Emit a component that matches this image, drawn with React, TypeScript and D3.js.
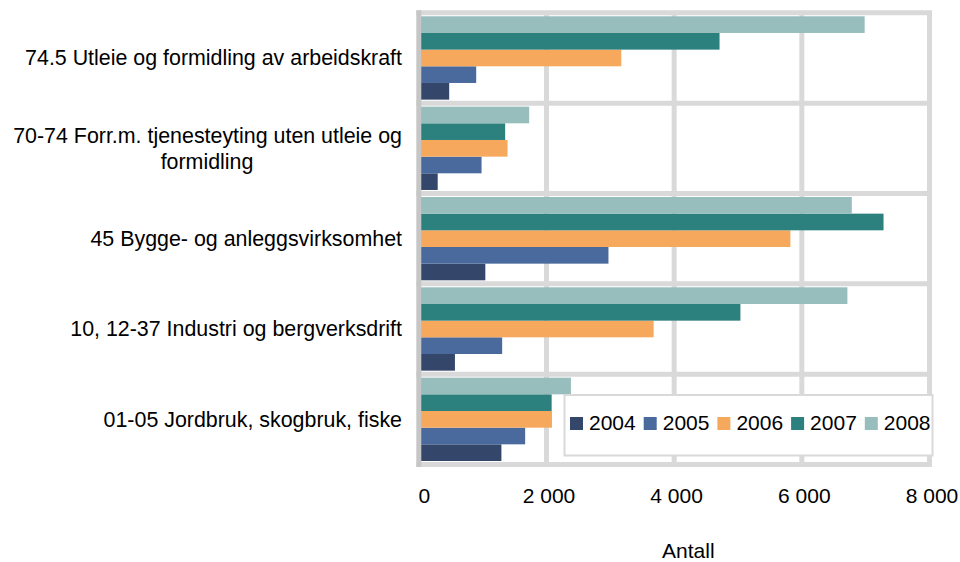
import React from "react";
import * as d3 from "d3";

const categories = [
  "74.5 Utleie og formidling av arbeidskraft",
  "70-74 Forr.m. tjenesteyting uten utleie og|formidling",
  "45 Bygge- og anleggsvirksomhet",
  "10, 12-37 Industri og bergverksdrift",
  "01-05 Jordbruk, skogbruk, fiske",
];
const years = ["2004", "2005", "2006", "2007", "2008"];
const v2004 = [476, 296, 1042, 566, 1294];
const v2005 = [899, 983, 2971, 1306, 1666];
const v2006 = [3172, 1390, 5821, 3679, 2086];
const v2007 = [4711, 1353, 7280, 5038, 2081];
const v2008 = [6984, 1729, 6783, 6714, 2383];
const seriesValues = [v2004, v2005, v2006, v2007, v2008];
const colors = ["#34476b", "#4a699c", "#f6a95d", "#2c807e", "#98bdbd"];
const xTicks = [0, 2000, 4000, 6000, 8000];
const axisTitle = "Antall";

const W = 960;
const H = 562;
const plotLeft = 418.8;
const plotRight = 929.5;
const plotTop = 12.8;
const plotBottom = 464.5;
const FONT = "'Liberation Sans', Arial, sans-serif";
const FS = 21.4;

export default function App() {
  const x = d3.scaleLinear().domain([0, 8000]).range([plotLeft, plotRight]);
  const y = d3.scaleBand<string>().domain(categories).range([plotTop, plotBottom]).padding(0);
  const bw = y.bandwidth();
  const inner = d3
    .scaleBand<string>()
    .domain([...years].reverse())
    .range([3.5, bw - 3.5])
    .padding(0);
  const fmt = (v: number) => d3.format(",")(v).replace(/,/g, " ");

  const grid = "#d9d9d9";
  const legendX = 564.5;
  const legendY = 395;
  const legendW = 368;
  const legendH = 60.5;

  return (
    <div style={{ position: "absolute", left: 0, top: 0 }}>
      <svg width={W} height={H} style={{ display: "block", background: "#fff" }}>
        {/* vertical gridlines */}
        {xTicks.slice(1).map((t) => (
          <line key={"g" + t} x1={x(t)} x2={x(t)} y1={plotTop} y2={plotBottom} stroke={grid} strokeWidth={5} />
        ))}
        {/* horizontal category separators incl. top/bottom border */}
        {categories.map((c) => (
          <line key={"h" + c} x1={plotLeft - 2.5} x2={plotRight + 2.5} y1={y(c)!} y2={y(c)!} stroke={grid} strokeWidth={5} />
        ))}
        <line x1={plotLeft - 2.5} x2={plotRight + 2.5} y1={plotBottom} y2={plotBottom} stroke={grid} strokeWidth={5} />
        {/* bars */}
        {categories.map((c, ci) =>
          years.map((yr, si) => {
            const val = seriesValues[si][ci];
            return (
              <rect
                key={c + yr}
                x={x(0)}
                y={y(c)! + inner(yr)!}
                width={x(val) - x(0)}
                height={inner.bandwidth()}
                fill={colors[si]}
              />
            );
          })
        )}
        {/* left axis */}
        <line x1={plotLeft} x2={plotLeft} y1={plotTop - 2.5} y2={plotBottom + 2.5} stroke="#c6c6c6" strokeWidth={5} />
        {/* category labels */}
        {categories.map((c) => {
          const lines = c.split("|");
          const cy = y(c)! + bw / 2;
          const lh = 26.6;
          if (lines.length === 1) {
            return (
              <text key={"t" + c} x={402} y={cy} dy="0.35em" fontFamily={FONT} fontSize={FS} fill="#000" textAnchor="end">
                {c}
              </text>
            );
          }
          return (
            <g key={"t" + c}>
              <text x={402} y={cy - lh / 2} dy="0.35em" fontFamily={FONT} fontSize={FS} fill="#000" textAnchor="end">
                {lines[0]}
              </text>
              <text x={207} y={cy + lh / 2} dy="0.35em" fontFamily={FONT} fontSize={FS} fill="#000" textAnchor="middle">
                {lines[1]}
              </text>
            </g>
          );
        })}
        {/* x tick labels */}
        {xTicks.map((t, i) => (
          <text key={"x" + t} x={x(t) + (i === 0 ? 5.5 : 2.5)} y={503} fontFamily={FONT} fontSize={21} fill="#000" textAnchor="middle">
            {fmt(t)}
          </text>
        ))}
        <text x={688.3} y={558} fontFamily={FONT} fontSize={21} fill="#000" textAnchor="middle">
          {axisTitle}
        </text>
        {/* legend */}
        <rect x={legendX} y={legendY} width={legendW} height={legendH} fill="#fff" stroke={grid} strokeWidth={2} />
        {years.map((yr, i) => (
          <g key={"lg" + yr} transform={`translate(${570 + i * 73.7},0)`}>
            <rect x={0} y={417} width={13} height={13} fill={colors[i]} />
            <text x={19} y={430} fontFamily={FONT} fontSize={21} fill="#000">
              {yr}
            </text>
          </g>
        ))}
      </svg>
    </div>
  );
}
